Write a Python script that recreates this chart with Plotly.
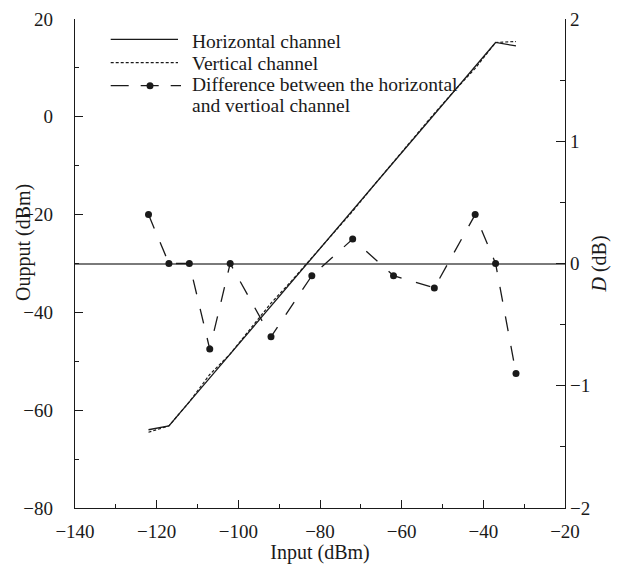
import plotly.graph_objects as go

# ---- data ----
input_hv = [-122, -117, -112, -107, -102, -97, -92, -87, -82, -77, -72, -67, -62, -57, -52, -47, -42, -37, -32]
horizontal = [-64.0, -63.2, -58.3, -53.4, -48.5, -43.6, -38.7, -33.8, -28.9, -24.0, -19.1, -14.2, -9.3, -4.4, 0.5, 5.4, 10.3, 15.2, 14.5]
vertical = [-64.5, -63.2, -58.3, -52.7, -48.5, -43.2, -38.1, -33.6, -28.8, -24.0, -19.3, -14.2, -9.2, -4.4, 0.7, 5.4, 9.9, 15.2, 15.4]

input_d = [-122, -117, -112, -107, -102, -92, -82, -72, -62, -52, -42, -37, -32]
difference = [0.4, 0.0, 0.0, -0.7, 0.0, -0.6, -0.1, 0.2, -0.1, -0.2, 0.4, 0.0, -0.9]

legend_labels = ["Horizontal channel", "Vertical channel",
                 "Difference between the horizontal", "and vertioal channel"]

FONT = "Liberation Serif"
BLACK = "#1a1a1a"

fig = go.Figure()
fig.add_trace(go.Scatter(x=input_hv, y=horizontal, mode="lines",
                         line=dict(color=BLACK, width=1.3), showlegend=False))
fig.add_trace(go.Scatter(x=input_hv, y=vertical, mode="lines",
                         line=dict(color=BLACK, width=1.2, dash="3px,2px"), showlegend=False))
fig.add_trace(go.Scatter(x=input_d, y=difference, mode="lines+markers", yaxis="y2",
                         line=dict(color=BLACK, width=1.3, dash="15px,15px"),
                         marker=dict(color=BLACK, size=7), showlegend=False))

tickfont = dict(family=FONT, size=19, color=BLACK)
titlefont = dict(family=FONT, size=20, color=BLACK)

fig.update_layout(
    width=618, height=564,
    margin=dict(l=75, r=53, t=19, b=56),
    paper_bgcolor="white", plot_bgcolor="white",
    font=dict(family=FONT, color=BLACK),
    xaxis=dict(range=[-140, -20], dtick=20, tick0=-140, showgrid=False, zeroline=False,
               automargin=False,
               showline=True, linecolor=BLACK, linewidth=1.3,
               ticks="inside", ticklen=8, tickwidth=1.2, tickcolor=BLACK,
               minor=dict(dtick=10, ticks="inside", ticklen=4, tickwidth=1.2, tickcolor=BLACK),
               tickfont=tickfont, ticklabelstandoff=6,
               title=dict(text="Input (dBm)", font=titlefont, standoff=4)),
    yaxis=dict(range=[-80, 20], dtick=20, showgrid=False, zeroline=False,
               automargin=False,
               showline=True, linecolor=BLACK, linewidth=1.3,
               ticks="inside", ticklen=8, tickwidth=1.2, tickcolor=BLACK,
               minor=dict(dtick=10, ticks="inside", ticklen=4, tickwidth=1.2, tickcolor=BLACK),
               tickfont=tickfont, ticklabelstandoff=17),
    yaxis2=dict(range=[-2, 2], dtick=1, overlaying="y", side="right", showgrid=False,
                automargin=False,
                zeroline=True, zerolinecolor="#7a7a7a", zerolinewidth=2,
                showline=True, linecolor=BLACK, linewidth=1.3,
                ticks="inside", ticklen=9, tickwidth=1.2, tickcolor=BLACK,
                minor=dict(dtick=0.5, ticks="inside", ticklen=5, tickwidth=1.2, tickcolor=BLACK),
                tickfont=tickfont, ticklabelstandoff=0,
                title=dict(text="<i>D</i> (dB)", font=titlefont, standoff=2)),
)

# ---- manual legend ----
W, H = 490.0, 489.0
def px(x):
    return (x - 75) / W
def py(y):
    return (508 - y) / H

shapes = [
    dict(type="line", xref="paper", yref="paper", x0=px(110.7), x1=px(178), y0=py(39.3), y1=py(39.3),
         line=dict(color=BLACK, width=1.3)),
    dict(type="line", xref="paper", yref="paper", x0=px(110.7), x1=px(178), y0=py(62.7), y1=py(62.7),
         line=dict(color=BLACK, width=1.2, dash="3px,2px")),
    dict(type="line", xref="paper", yref="paper", x0=px(110.7), x1=px(181), y0=py(85.7), y1=py(85.7),
         line=dict(color=BLACK, width=1.3, dash="18px,12px")),
    dict(type="circle", xref="paper", yref="paper", xsizemode="pixel", ysizemode="pixel",
         xanchor=px(150), yanchor=py(85.7), x0=-3.5, x1=3.5, y0=-3.5, y1=3.5,
         fillcolor=BLACK, line=dict(color=BLACK, width=0)),
]
fig.update_layout(shapes=shapes)

text_y = [41, 63.5, 84.5, 105]
for label, ty in zip(legend_labels, text_y):
    fig.add_annotation(text=label, xref="paper", yref="paper", x=px(190), y=py(ty),
                       xanchor="left", yanchor="middle", showarrow=False,
                       font=dict(family=FONT, size=19.5, color=BLACK))

# left axis title
fig.add_annotation(text="Oupput (dBm)", xref="paper", yref="paper", x=px(24), y=py(243),
                   xanchor="center", yanchor="middle", textangle=-90, showarrow=False,
                   font=titlefont)

fig.write_html("out.html")
